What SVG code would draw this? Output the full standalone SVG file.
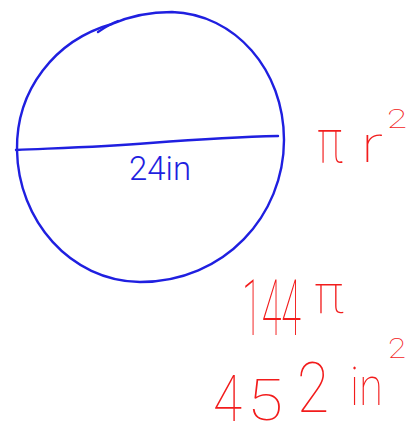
<svg xmlns="http://www.w3.org/2000/svg" width="416" height="439" viewBox="0 0 416 439">
<style>
.b{fill:none;stroke:#1f1fe0;stroke-width:2.4;stroke-linecap:round;stroke-linejoin:round}
.bt{fill:#1f1fe0;font-family:Roboto,"Liberation Sans",sans-serif;font-weight:300}
.rt{fill:#f21c1c;font-family:Roboto,"Liberation Sans",sans-serif;font-weight:100}
</style>
<rect width="416" height="439" fill="#ffffff"/>
<g id="circle">
<path class="b" d="M98,32 C104,28 110,24 118,21"/>
<path class="b" d="M112,24 C130,16 150,12 172,12 C235,14 284,70 284,140 C284,215 225,282 140,282 C70,281 18,220 17,150 C16,90 55,40 112,24"/>
<path class="b" d="M16,150 C60,148 100,147 150,143 C190,140 230,137 278,136"/>
</g>
<g id="label-24in">
<text class="bt" x="129" y="180" font-size="34" textLength="62" lengthAdjust="spacingAndGlyphs">24in</text>
</g>
<g id="formula">
<text class="rt" x="317" y="162" font-size="62" textLength="26" lengthAdjust="spacingAndGlyphs">π</text>
<text class="rt" x="361" y="162" font-size="52" textLength="22" lengthAdjust="spacingAndGlyphs">r</text>
<text class="rt" x="387" y="128" font-size="25" textLength="20" lengthAdjust="spacingAndGlyphs">2</text>
</g>
<g id="step-144pi">
<text class="rt" transform="translate(242,335) scale(0.46,1)" x="0" y="0" font-size="78">144</text>
<text class="rt" x="314" y="313" font-size="56" textLength="30" lengthAdjust="spacingAndGlyphs">π</text>
</g>
<g id="result">
<text class="rt" x="213" y="421" font-size="64" textLength="29" lengthAdjust="spacingAndGlyphs">4</text>
<text class="rt" x="247" y="420" font-size="58" textLength="36" lengthAdjust="spacingAndGlyphs">5</text>
<text class="rt" x="297" y="412" font-size="70" textLength="32" lengthAdjust="spacingAndGlyphs">2</text>
<text class="rt" x="350" y="405" font-size="54" textLength="33" lengthAdjust="spacingAndGlyphs">in</text>
<text class="rt" x="388" y="358" font-size="28" textLength="18" lengthAdjust="spacingAndGlyphs">2</text>
</g>
</svg>
